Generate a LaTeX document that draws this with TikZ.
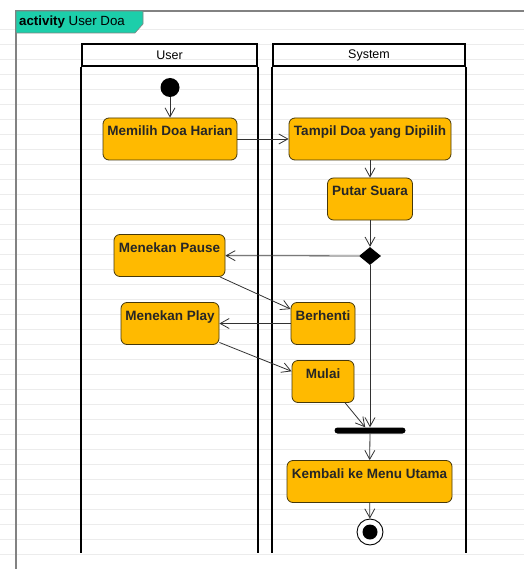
\documentclass[tikz,border=0pt]{standalone}
\usepackage{fontspec}
\setmainfont{Liberation Sans}
\usetikzlibrary{arrows.meta,shapes.geometric}

\definecolor{actfill}{RGB}{255,186,0}
\definecolor{actline}{RGB}{70,56,10}
\definecolor{tabteal}{RGB}{28,206,170}
\definecolor{framegray}{RGB}{130,130,130}
\definecolor{flowline}{RGB}{50,50,50}
\definecolor{ruleline}{RGB}{236,236,236}

\tikzset{
  actbox/.style={draw=actline, fill=actfill, rounded corners=6pt, line width=0.8pt,
    inner xsep=2pt, inner ysep=2pt, text height=16pt, text depth=22pt,
    font=\bfseries\fontsize{13.5}{15}\selectfont, text=black!85},
  lanehead/.style={draw=black, line width=1.6pt, minimum height=22pt, inner sep=0pt,
    font=\fontsize{12.5}{14}\selectfont},
  laneside/.style={draw=black, line width=1.6pt},
  flow/.style={draw=flowline, line width=0.8pt, -{Straight Barb[length=9pt,width=10pt]}},
  startdot/.style={circle, fill=black, minimum size=19pt, inner sep=0pt},
  decision/.style={diamond, fill=black, minimum width=22pt, minimum height=18pt, inner sep=0pt},
  joinbar/.style={rectangle, fill=black, rounded corners=3pt, minimum width=71pt, minimum height=6pt, inner sep=0pt},
  enddot/.style={circle, draw=black, line width=0.9pt, fill=white, minimum size=26pt, inner sep=0pt},
}

\begin{document}
\begin{tikzpicture}[x=1pt, y=-1pt]
  \useasboundingbox (0,0) rectangle (524,569);
  \fill[white] (0,0) rectangle (524,569);

  % faint ruled background
  \foreach \yy in {29,44,...,569} {
    \draw[ruleline, line width=0.6pt] (0,\yy) -- (524,\yy);
  }

  % activity frame with its name tab
  \draw[framegray, line width=1.2pt] (16,569) -- (16,11) -- (524,11);
  \filldraw[fill=tabteal, draw=framegray, line width=0.6pt]
    (16,11) -- (143,11) -- (143,24) -- (135,33) -- (16,33) -- cycle;
  \node[anchor=west, inner sep=0pt, font=\fontsize{13.3}{15}\selectfont] (title) at (19,22.5)
    {\textbf{activity} User Doa};

  % swimlanes
  \node[lanehead, minimum width=175pt] (laneUser) at (169.5,55) {User};
  \node[lanehead, minimum width=192pt] (laneSys) at (369,55) {System};
  \draw[laneside] (laneUser.south west) -- ++(0,486);
  \draw[laneside] (laneUser.south east) -- ++(0,486);
  \draw[laneside] (laneSys.south west) -- ++(0,486);
  \draw[laneside] (laneSys.south east) -- ++(0,486);

  % activities
  \node[startdot] (start) at (170,87.5) {};
  \node[actbox, minimum width=134pt] (memilih) at (170,139) {Memilih Doa Harian};
  \node[actbox, minimum width=162pt] (tampil) at (370,139) {Tampil Doa yang Dipilih};
  \node[actbox, minimum width=85pt] (putar) at (370,199) {Putar Suara};
  \node[decision] (choice) at (370,256) {};
  \node[actbox, minimum width=111pt] (pause) at (169.5,255.5) {Menekan Pause};
  \node[actbox, minimum width=64pt] (berhenti) at (323,323.5) {Berhenti};
  \node[actbox, minimum width=98pt] (play) at (170,323.5) {Menekan Play};
  \node[actbox, minimum width=62pt] (mulai) at (323,381.5) {Mulai};
  \node[joinbar] (bar) at (370,430.5) {};
  \node[actbox, minimum width=165pt] (kembali) at (369.5,481.5) {Kembali ke Menu Utama};
  \node[enddot] (final) at (370,532) {};
  \node[circle, fill=black, minimum size=15pt, inner sep=0pt] (finalcore) at (final.center) {};

  % control flows
  \draw[flow] (start) -- (memilih);
  \draw[flow] (memilih) -- (tampil);
  \draw[flow] (tampil) -- (putar);
  \draw[flow] (putar) -- (choice);
  \draw[flow] (choice) -- (pause);
  \draw[flow] (pause.-23) -- (berhenti.156);
  \draw[flow] (berhenti) -- (play);
  \draw[flow] (play.-21) -- (mulai.162);
  \draw[flow] (mulai.-44) -- (bar.146);
  \draw[flow] (choice) -- (bar.north);
  \draw[flow] (bar) -- (kembali);
  \draw[flow] (kembali) -- (final);
\end{tikzpicture}
\end{document}
